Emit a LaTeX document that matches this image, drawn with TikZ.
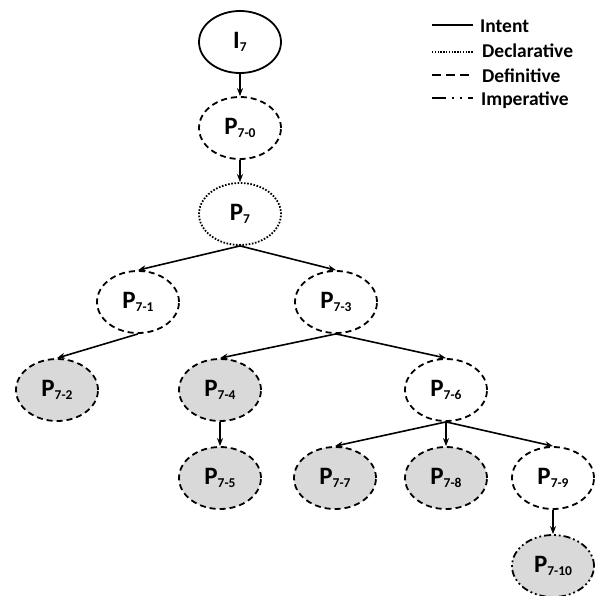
\documentclass[tikz,border=0pt]{standalone}
\usepackage{fontspec}
\setmainfont{Carlito}
\usetikzlibrary{shapes.geometric,arrows.meta}
\newcommand{\subl}[1]{\raisebox{-3.5pt}{\fontsize{13.5}{13.5}\selectfont\bfseries #1}}
\newcommand{\pl}[1]{\textbf{P\subl{#1}}}
\tikzset{
  st/.style={ellipse, minimum width=82pt, minimum height=62pt, inner sep=0pt, line width=1.8pt, font=\fontsize{25}{25}\selectfont\bfseries},
  intentst/.style={st, draw},
  defst/.style={st, draw, dash pattern=on 6pt off 4pt},
  decst/.style={st, draw, dash pattern=on 1.6pt off 1.6pt},
  impst/.style={st, draw, dash pattern=on 7pt off 3pt on 1.8pt off 3pt on 1.8pt off 3pt},
  leaf/.style={fill=black!15},
  edge/.style={line width=1.6pt, -{Stealth[length=8pt,width=6pt]}},
  legline/.style={line width=1.8pt},
  legtext/.style={anchor=base west, inner sep=0pt, font=\fontsize{19.5}{19.5}\selectfont\bfseries}
}
\begin{document}
\begin{tikzpicture}[x=1pt,y=-1pt]
\useasboundingbox (0,0) rectangle (605,595);
\node[intentst] (i7) at (240,42) {I\subl{7}};
\node[defst] (p70) at (240,128) {\pl{7-0}};
\node[decst] (p7) at (240,214) {\pl{7}};
\node[defst] (p71) at (138,302) {\pl{7-1}};
\node[defst] (p73) at (336,302) {\pl{7-3}};
\node[defst,leaf] (p72) at (57,390) {\pl{7-2}};
\node[defst,leaf] (p74) at (220,390) {\pl{7-4}};
\node[defst] (p76) at (446,390) {\pl{7-6}};
\node[defst,leaf] (p75) at (220,478) {\pl{7-5}};
\node[defst,leaf] (p77) at (335,478) {\pl{7-7}};
\node[defst,leaf] (p78) at (446,478) {\pl{7-8}};
\node[defst] (p79) at (553,478) {\pl{7-9}};
\node[impst,leaf] (p710) at (553,566) {\pl{7-10}};

\draw[edge] (i7.south) -- (p70.north);
\draw[edge] (p70.south) -- (p7.north);
\draw[edge] (p7.south) -- (p71.north);
\draw[edge] (p7.south) -- (p73.north);
\draw[edge] (p71.south) -- (p72.north);
\draw[edge] (p73.south) -- (p74.north);
\draw[edge] (p73.south) -- (p76.north);
\draw[edge] (p74.south) -- (p75.north);
\draw[edge] (p76.south) -- (p77.north);
\draw[edge] (p76.south) -- (p78.north);
\draw[edge] (p76.south) -- (p79.north);
\draw[edge] (p79.south) -- (p710.north);

\coordinate (l1a) at (432,25); \coordinate (l1b) at (473,25);
\coordinate (l2a) at (432,52); \coordinate (l2b) at (473,52);
\coordinate (l3a) at (432,75); \coordinate (l3b) at (473,75);
\coordinate (l4a) at (432,98); \coordinate (l4b) at (473,98);
\draw[legline] (l1a) -- (l1b);
\draw[legline, dash pattern=on 1.4pt off 1.4pt, line width=1.4pt] (l2a) -- (l2b);
\draw[legline, dash pattern=on 9pt off 5pt] (l3a) -- (l3b);
\draw[legline, dash pattern=on 14pt off 6pt on 2pt off 6pt on 2pt off 6pt] (l4a) -- (l4b);
\node[legtext] (t1) at (480,32) {Intent};
\node[legtext] (t2) at (482,57) {Declarative};
\node[legtext] (t3) at (482,82) {Definitive};
\node[legtext] (t4) at (481,105) {Imperative};
\end{tikzpicture}
\end{document}
